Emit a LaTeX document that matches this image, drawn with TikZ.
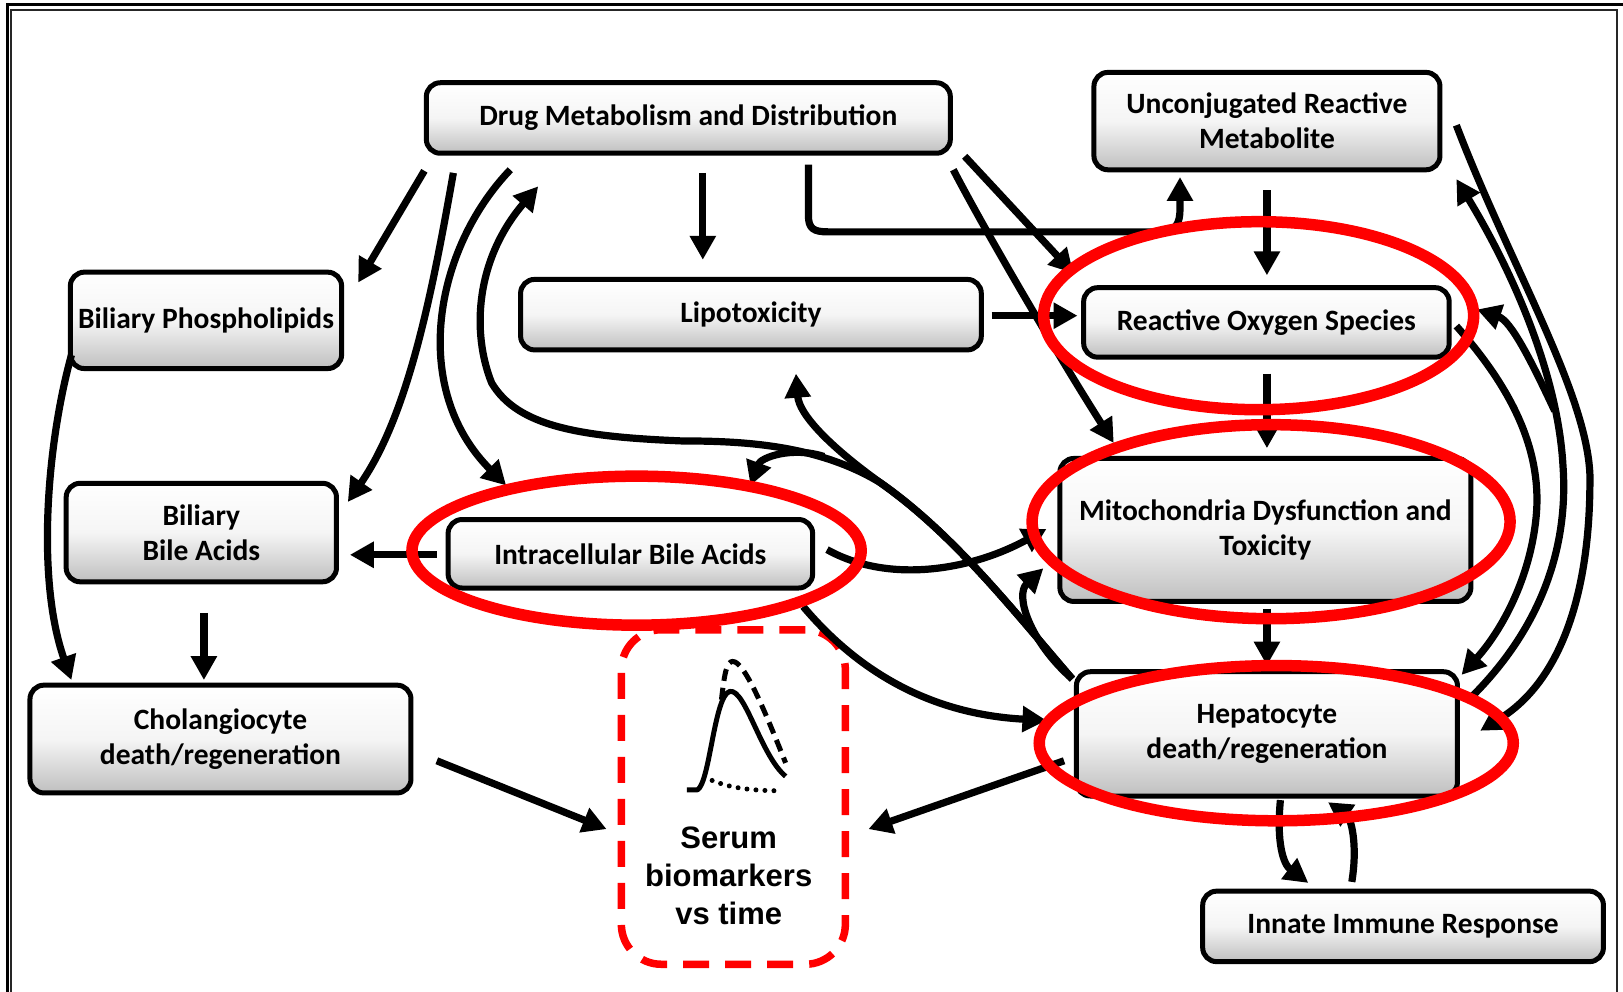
\documentclass[tikz,border=0pt]{standalone}
\usepackage{fontspec}
\setmainfont{Carlito}
\newfontfamily\arialf{Liberation Sans}
\usetikzlibrary{arrows.meta,shapes.geometric}
\definecolor{redc}{RGB}{255,0,0}
\tikzset{
 box/.style={draw=black, line width=5pt, rounded corners=14pt, top color=white, bottom color=black!25, middle color=black!4, align=center, font=\fontsize{29.5}{35}\selectfont\bfseries, inner sep=0pt},
 arr/.style={line width=7.2pt, -{Triangle[length=24pt,width=25pt]}},
 ring/.style={draw=redc, line width=11.5pt},
 glyph/.style={line width=5pt, line join=round},
}
\begin{document}
\begin{tikzpicture}[x=1.035pt,y=-1.035pt]
\useasboundingbox (0,0) rectangle (1568,957.5);
% frame
\draw[line width=3pt] (6.8,970) -- (6.8,4.8) -- (1575,4.8);
\draw[line width=2pt, black!85] (10.8,970) -- (10.8,9.2) -- (1562.5,9.2) -- (1562.5,970);

% nodes
\node[box, minimum width=524pt, minimum height=70.5pt] (drug) at (665,114) {Drug Metabolism and Distribution};
\node[box, minimum width=346pt, minimum height=97.4pt] (unc) at (1224,117) {Unconjugated Reactive\\Metabolite};
\node[box, minimum width=271.3pt, minimum height=96.4pt] (bphos) at (199,309.5) {Biliary Phospholipids};
\node[box, minimum width=460.7pt, minimum height=70.5pt] (lipo) at (725.5,304) {Lipotoxicity};
\node[box, minimum width=365.5pt, minimum height=69.5pt] (ros) at (1223.5,311.5) {Reactive Oxygen Species};
\node[box, minimum width=270.3pt, minimum height=98.5pt] (bbile) at (194.5,514.5) {Biliary\\Bile Acids};
\node[box, minimum width=364.5pt, minimum height=68.5pt] (intra) at (609,535) {Intracellular Bile Acids};
\node[box, minimum width=411pt, minimum height=143pt] (mito) at (1222.5,512) {Mitochondria Dysfunction and\\Toxicity};
\node[box, minimum width=381pt, minimum height=107.8pt] (chol) at (213,714) {Cholangiocyte\\death/regeneration};
\node[box, minimum width=381pt, minimum height=124.3pt] (hep) at (1224,709) {Hepatocyte\\death/regeneration};
\node[box, minimum width=400.7pt, minimum height=70.5pt] (innate) at (1355.5,895) {Innate Immune Response};

% serum box
\node[draw=redc, line width=7.5pt, dash pattern=on 26pt off 16pt, rounded corners=40pt, minimum width=224pt, minimum height=334.5pt] (serum) at (708.5,770) {};
\node[font=\arialf\bfseries\fontsize{31}{38.3}\selectfont, align=center] (serumtxt) at (704,846) {Serum\\biomarkers\\vs time};
% glyph
\draw[glyph] (663.5,763) -- (674,763) .. controls (686,755) and (690,672) .. (705,668) .. controls (720,665) and (735,730) .. (759,750);
\draw[glyph, dash pattern=on 12pt off 7pt] (697,676) .. controls (700,650) and (702,639) .. (708,639) .. controls (720,639) and (742,695) .. (759,737);
\draw[line width=5pt, line cap=round, dash pattern=on 0pt off 9pt] (688,754) .. controls (705,761) and (725,764) .. (756,764);

% connectors
\coordinate (hc) at (1036,656);
\coordinate (split) at (850,466);
\draw[arr] (410,165) -- (346,273);
\draw[arr] (438,167) .. controls (418,280) and (395,400) .. (336,485);
\draw[arr] (493,164) .. controls (420,240) and (395,375) .. (489,469);
\draw[arr] (hc) .. controls (975,585) and (920,515) .. (split) .. controls (790,430) and (720,426) .. (659,426) .. controls (560,422) and (500,412) .. (475,370) .. controls (455,320) and (460,250) .. (520,180);
\draw[arr] (hc) .. controls (975,585) and (920,515) .. (split) .. controls (800,430) and (772,400) .. (769,361);
\draw[arr] (796,441) .. controls (765,431) and (735,442) .. (725,469);
\draw[arr] (hc) .. controls (995,620) and (980,575) .. (1008,549);
\draw[arr] (679,167) -- (679,251);
\draw[arr] (781,159) -- (781,208) .. controls (781,221) and (786,224) .. (800,224) -- (1120,224) .. controls (1136,224) and (1140,216) .. (1140,202) -- (1140,171);
\draw[arr] (932,151) -- (1037,264);
\draw[arr] (921,164) .. controls (950,220) and (1020,340) .. (1076,428);
\draw[arr] (958,305) -- (1041,305);
\draw[arr] (1224,184) -- (1224,266);
\draw[arr] (1224,361) -- (1224,433);
\draw[arr] (1224,588) -- (1224,643);
\draw[arr] (422,536) -- (338,536);
\draw[arr] (197,592) -- (197,657);
\draw[arr] (69,343) .. controls (45,430) and (35,560) .. (69,657);
\draw[arr] (422,735) -- (586,801);
\draw[arr] (1028,735) -- (839,801);
\draw[arr] (799,531) .. controls (860,565) and (940,550) .. (1011,511);
\draw[arr] (776,586) .. controls (830,650) and (900,690) .. (1011,696);
\draw[arr] (1407,121) .. controls (1460,260) and (1540,390) .. (1536,470) .. controls (1535,580) and (1505,660) .. (1430,706);
\draw[arr] (1422,673) .. controls (1495,600) and (1515,520) .. (1510,450) .. controls (1505,360) and (1460,260) .. (1407,173);
\draw[arr] (1502,397) .. controls (1480,350) and (1460,310) .. (1427,299);
\draw[arr] (1407,315) .. controls (1465,380) and (1490,440) .. (1484,500) .. controls (1478,560) and (1450,610) .. (1412,652);
\draw[arr] (1237,773) .. controls (1233,815) and (1240,835) .. (1264,853);
\draw[arr] (1306,852) .. controls (1312,815) and (1305,790) .. (1283,775);

% red rings
\draw[ring] (1216,305) ellipse [x radius=215pt, y radius=94pt];
\draw[ring] (1228,504) ellipse [x radius=239pt, y radius=97pt];
\draw[ring] (615,532) ellipse [x radius=224.6pt, y radius=74.5pt];
\draw[ring] (1233,718) ellipse [x radius=237pt, y radius=77.6pt];
\end{tikzpicture}
\end{document}
